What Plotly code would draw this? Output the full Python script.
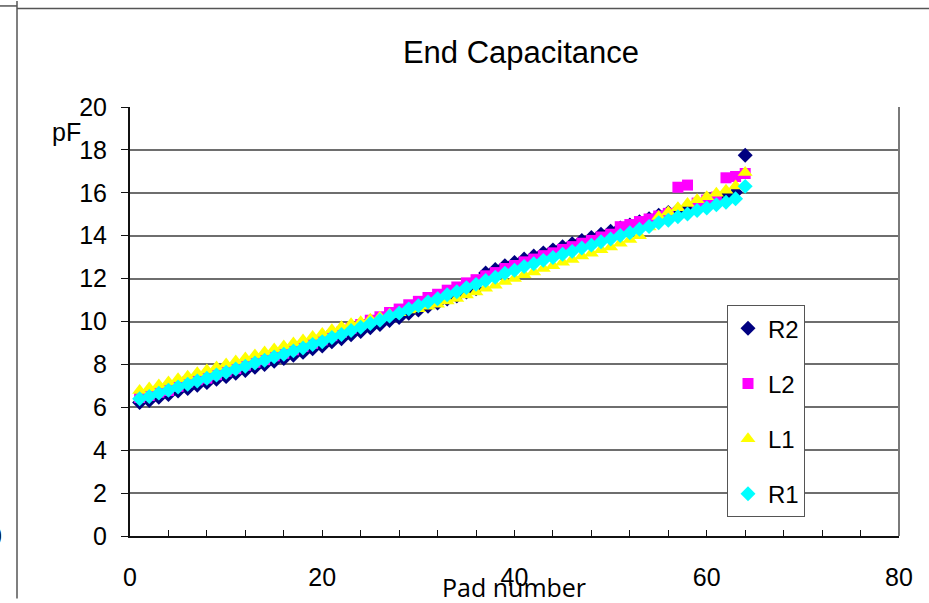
import plotly.graph_objects as go

# Pad numbers 1..64
pads = list(range(1, 65))

# End capacitance per pad (pF)
r2 = [6.22, 6.32, 6.47, 6.60, 6.76, 6.88, 7.03, 7.15, 7.31, 7.43, 7.59, 7.71, 7.87, 7.99, 8.15, 8.27,
      8.43, 8.56, 8.73, 8.86, 9.05, 9.19, 9.38, 9.53, 9.71, 9.86, 10.05, 10.19, 10.38, 10.53, 10.71, 10.86,
      11.05, 11.19, 11.38, 11.53, 12.26, 12.42, 12.60, 12.75, 12.91, 13.05, 13.20, 13.34, 13.49, 13.63,
      13.78, 13.92, 14.07, 14.21, 14.36, 14.50, 14.65, 14.79, 14.95, 15.08, 15.20, 15.32, 15.47, 15.60,
      15.74, 15.86, 16.02, 17.75]
l2 = [6.46, 6.55, 6.70, 6.78, 6.98, 7.18, 7.28, 7.36, 7.52, 7.68, 7.80, 7.96, 8.10, 8.22, 8.40, 8.52,
      8.68, 8.84, 8.98, 9.14, 9.34, 9.50, 9.68, 9.86, 10.06, 10.22, 10.42, 10.58, 10.78, 10.94, 11.12, 11.27,
      11.46, 11.61, 11.80, 11.95, 12.13, 12.28, 12.47, 12.61, 12.78, 12.91, 13.07, 13.20, 13.36, 13.49,
      13.65, 13.78, 13.94, 14.07, 14.42, 14.52, 14.66, 14.78, 14.92, 15.04, 16.26, 16.36, 15.52, 15.66,
      15.80, 16.70, 16.76, 16.90]
l1 = [6.78, 6.90, 7.04, 7.18, 7.33, 7.45, 7.61, 7.74, 7.88, 8.02, 8.16, 8.30, 8.44, 8.58, 8.72, 8.86,
      9.00, 9.14, 9.30, 9.44, 9.62, 9.76, 9.90, 9.99, 10.11, 10.20, 10.33, 10.41, 10.54, 10.60, 10.71, 10.81,
      10.96, 11.07, 11.23, 11.38, 11.55, 11.69, 11.87, 12.01, 12.18, 12.31, 12.47, 12.60, 12.76, 12.89,
      13.05, 13.18, 13.34, 13.47, 13.65, 13.82, 14.00, 14.40, 14.90, 15.10, 15.30, 15.50, 15.68, 15.82,
      15.98, 16.12, 16.32, 16.95]
r1 = [6.40, 6.50, 6.66, 6.79, 6.95, 7.07, 7.23, 7.35, 7.51, 7.63, 7.79, 7.91, 8.07, 8.19, 8.35, 8.47,
      8.63, 8.76, 8.93, 9.06, 9.25, 9.39, 9.58, 9.73, 9.91, 10.06, 10.25, 10.39, 10.58, 10.73, 10.91, 11.06,
      11.25, 11.39, 11.58, 11.73, 11.91, 12.06, 12.25, 12.39, 12.56, 12.69, 12.85, 12.98, 13.14, 13.27,
      13.43, 13.56, 13.72, 13.85, 14.01, 14.14, 14.30, 14.43, 14.60, 14.72, 14.88, 15.01, 15.17, 15.29,
      15.44, 15.56, 15.72, 16.30]

series = [
    ("R2", r2, "#000080", "diamond", 11.5),
    ("L2", l2, "#FF00FF", "square", 11),
    ("L1", l1, "#FFFF00", "triangle-up", 13),
    ("R1", r1, "#00FFFF", "diamond", 11.5),
]

W, H = 929, 603
L, R, T, B = 130, 30, 107, 63
pw, ph = W - L - R, H - T - B


def px(x):
    return (x - L) / pw


def py(y):
    return 1 - (y - T) / ph


fig = go.Figure()
for name, vals, color, sym, size in series:
    fig.add_trace(go.Scatter(
        x=pads, y=vals, mode="markers", name=name, legendgroup=name,
        marker=dict(color=color, symbol=sym, size=size, line=dict(width=0)),
    ))

font = "Arial, Liberation Sans, sans-serif"

fig.update_layout(
    width=W, height=H,
    margin=dict(l=L, r=R, t=T, b=B),
    paper_bgcolor="white", plot_bgcolor="white",
    font=dict(family=font, size=25, color="black"),
    title=dict(text="End Capacitance", x=px(521), xref="paper", xanchor="center",
               y=1 - 52 / H, yref="container", yanchor="middle",
               font=dict(family=font, size=31, color="black")),
    showlegend=True,
    legend=dict(x=px(727), y=py(307), xanchor="left", yanchor="top",
                bgcolor="white", bordercolor="#555555", borderwidth=1,
                font=dict(family=font, size=24, color="black"),
                tracegroupgap=21, itemwidth=30),
    xaxis=dict(range=[0, 80], dtick=20, showgrid=False, zeroline=False,
               showline=True, linecolor="#111111", linewidth=2,
               ticks="inside", ticklen=6, tickcolor="#111111", tickwidth=1,
               minor=dict(dtick=4, ticks="inside", ticklen=6, tickcolor="#111111", tickwidth=1),
               ticklabelstandoff=18,
               tickfont=dict(family=font, size=25, color="black")),
    yaxis=dict(range=[0, 20], dtick=2, showgrid=True, gridcolor="#6e6e6e", gridwidth=2,
               zeroline=False, showline=True, linecolor="#111111", linewidth=2,
               ticks="outside", ticklen=7, tickcolor="#111111", tickwidth=1,
               ticklabelstandoff=9,
               tickfont=dict(family=font, size=25, color="black")),
)

# plot-area border (right edge) and the surrounding frame lines
fig.add_shape(type="line", xref="paper", yref="paper", x0=1, x1=1, y0=0, y1=1,
              line=dict(color="#7a7a7a", width=2))
fig.add_shape(type="line", xref="paper", yref="paper", x0=px(17), x1=px(17),
              y0=py(0), y1=py(H), line=dict(color="#555555", width=1.5))
fig.add_shape(type="line", xref="paper", yref="paper", x0=px(17), x1=px(W),
              y0=py(7.5), y1=py(7.5), line=dict(color="#555555", width=1.5))
fig.add_shape(type="line", xref="paper", yref="paper", x0=px(0), x1=px(17),
              y0=py(5), y1=py(5), line=dict(color="#555555", width=1.5))

fig.add_annotation(text="pF", xref="paper", yref="paper", x=px(66), y=py(132),
                   xanchor="center", yanchor="middle", showarrow=False,
                   font=dict(family=font, size=25, color="black"))
fig.add_annotation(text="Pad number", xref="paper", yref="paper", x=px(514), y=py(591),
                   xanchor="center", yanchor="middle", showarrow=False,
                   font=dict(family="Open Sans, sans-serif", size=25, color="black"))
fig.add_annotation(text="0", xref="paper", yref="paper", x=px(4), y=py(540),
                   xanchor="right", yanchor="middle", showarrow=False,
                   font=dict(family=font, size=25, color="black"))

fig.write_html("out.html")
